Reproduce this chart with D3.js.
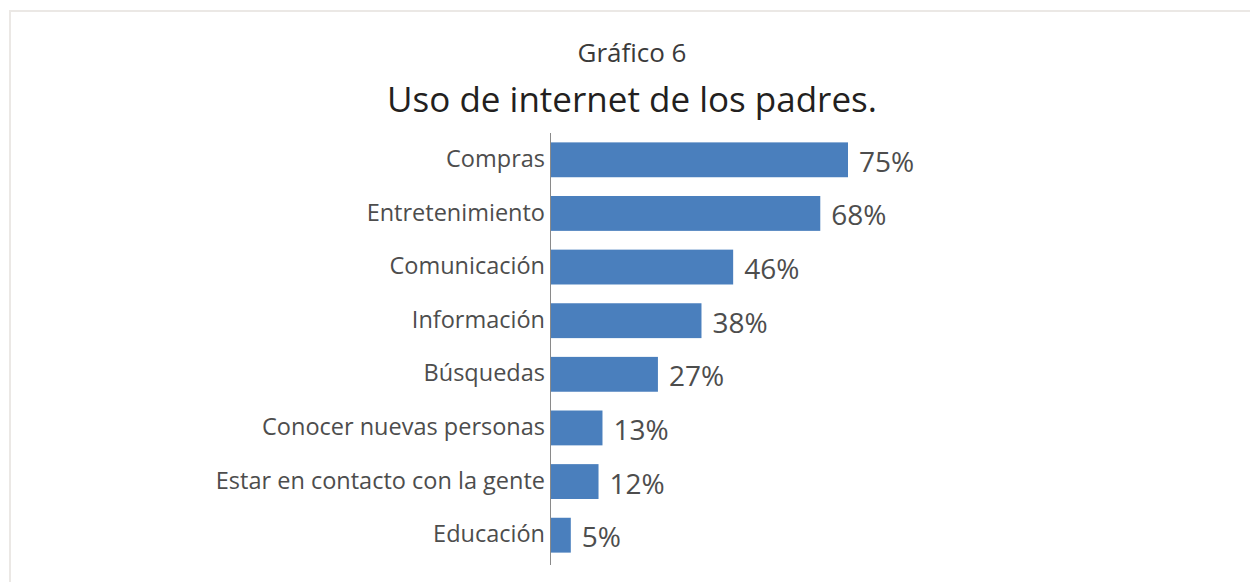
<!DOCTYPE html>
<html>
<head>
<meta charset="utf-8">
<script src="https://cdn.jsdelivr.net/npm/d3@7"></script>
<style>
  body { margin: 0; background: #fff; }
  text { font-family: "Open Sans", sans-serif; }
</style>
</head>
<body>
<div id="chart"></div>
<script>
var categories = ["Compras", "Entretenimiento", "Comunicación", "Información", "Búsquedas",
                  "Conocer nuevas personas", "Estar en contacto con la gente", "Educación"];
var values = [75, 68, 46, 38, 27, 13, 12, 5];
var supTitle = "Gráfico 6";
var mainTitle = "Uso de internet de los padres.";

var W = 1250, H = 582;

var svg = d3.select("#chart")
    .append("svg")
    .attr("width", W)
    .attr("height", H);

// light frame around the chart
svg.append("rect")
    .attr("x", 10)
    .attr("y", 11)
    .attr("width", 1260)
    .attr("height", 600)
    .attr("fill", "#fff")
    .attr("stroke", "#ebe8e5")
    .attr("stroke-width", 2);

var x = d3.scaleLinear()
    .domain([0, 100])
    .range([551, 947]);

var y = d3.scaleBand()
    .domain(categories)
    .range([133, 562])
    .paddingInner(0.35)
    .paddingOuter(0.175);

svg.append("text")
    .attr("x", 632)
    .attr("y", 62)
    .attr("text-anchor", "middle")
    .attr("fill", "#3a3a3a")
    .style("font-size", "26px")
    .text(supTitle);

svg.append("text")
    .attr("x", 632)
    .attr("y", 112)
    .attr("text-anchor", "middle")
    .attr("fill", "#231f20")
    .style("font-size", "35px")
    .text(mainTitle);

svg.selectAll("rect.bar")
    .data(values)
    .enter()
    .append("rect")
    .attr("class", "bar")
    .attr("x", x(0))
    .attr("y", function(d, i) { return y(categories[i]); })
    .attr("width", function(d) { return x(d) - x(0); })
    .attr("height", y.bandwidth())
    .attr("fill", "#4a7fbd");

svg.selectAll("text.val")
    .data(values)
    .enter()
    .append("text")
    .attr("class", "val")
    .attr("x", function(d) { return x(d) + 11; })
    .attr("y", function(d, i) { return y(categories[i]) + y.bandwidth() / 2 + 12; })
    .attr("fill", "#4d4d4d")
    .style("font-size", "28px")
    .text(function(d) { return d + "%"; });

var yAxis = svg.append("g")
    .attr("transform", "translate(" + x(0) + ",0)")
    .call(d3.axisLeft(y).tickSize(0).tickPadding(6));

yAxis.select(".domain")
    .attr("stroke", "#8a8a8a")
    .attr("d", "M-0.5,133V565");

yAxis.selectAll("text")
    .attr("fill", "#4d4d4d")
    .attr("dy", "0.3em")
    .style("font-size", "23.5px")
    .style("font-family", "'Open Sans', sans-serif");
</script>
</body>
</html>
